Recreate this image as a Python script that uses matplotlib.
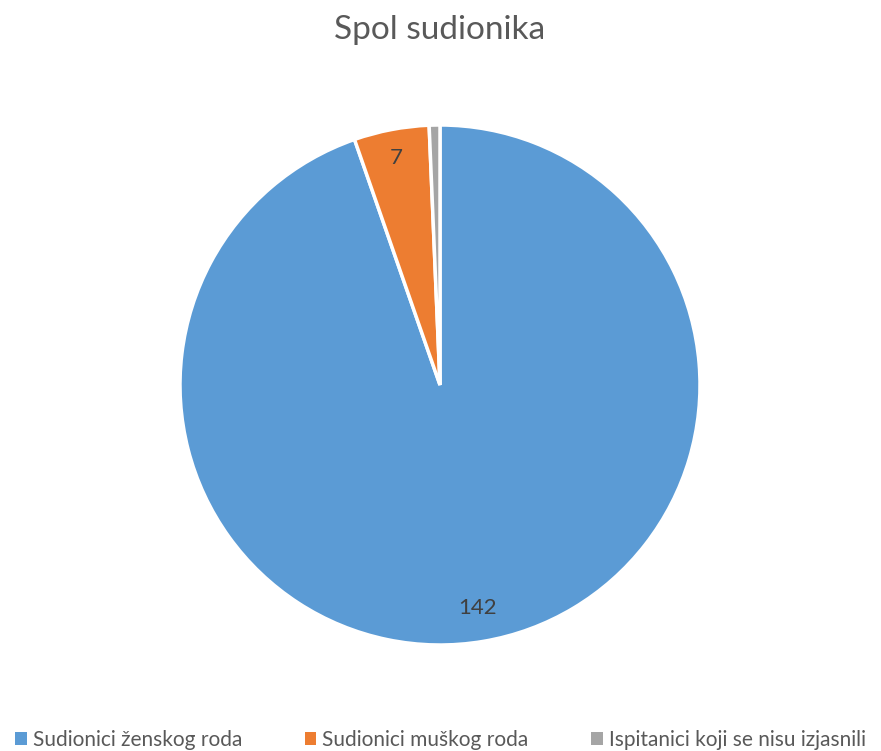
import matplotlib
matplotlib.use("Agg")
import matplotlib.pyplot as plt
from matplotlib.patches import Patch
import numpy as np

categories = ["Sudionici ženskog roda", "Sudionici muškog roda", "Ispitanici koji se nisu izjasnili"]
values = [142, 7, 1]
labels_shown = ["142", "7", ""]
colors = ["#5B9BD5", "#ED7D31", "#A5A5A5"]

plt.rcParams['font.family'] = ['Lato', 'DejaVu Sans']

W, H = 881, 751
fig = plt.figure(figsize=(W/100, H/100), dpi=100)
cx, cy, r = 440, 385, 260
ax = fig.add_axes([(cx - r)/W, (H - cy - r)/H, 2*r/W, 2*r/H])

wedges, _ = ax.pie(values, colors=colors, startangle=90, counterclock=False,
                   wedgeprops=dict(edgecolor="white", linewidth=2.5))
ax.set_xlim(-1, 1)
ax.set_ylim(-1, 1)
ax.set_aspect('equal')
ax.set_clip_on(False)
for w in wedges:
    w.set_clip_on(False)

for w, lab, v in zip(wedges, labels_shown, values):
    if not lab:
        continue
    ang = np.deg2rad((w.theta1 + w.theta2) / 2)
    rr = 0.87 if v > 50 else 0.89
    ax.text(rr*np.cos(ang), rr*np.sin(ang), lab, ha="center", va="center",
            fontsize=16, color="#404040")

fig.text(cx/W, 1 - 30/H, "Spol sudionika", ha="center", va="center",
         fontsize=24, color="#595959")

handles = [Patch(facecolor=c, edgecolor="none") for c in colors]
fig.legend(handles, categories, loc="center", bbox_to_anchor=(0.5, 1 - 740/H),
           ncol=3, frameon=False, fontsize=15, handlelength=0.55, handleheight=0.55,
           handletextpad=0.3, columnspacing=3.0, labelcolor="#595959")

fig.savefig("out.png", dpi=100)
